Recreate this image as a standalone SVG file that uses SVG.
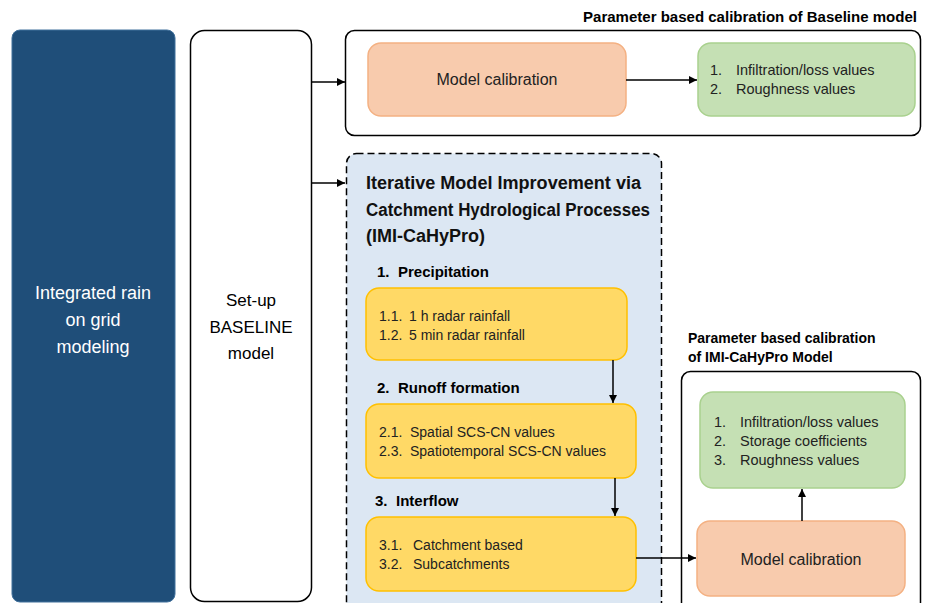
<svg xmlns="http://www.w3.org/2000/svg" width="926" height="603" viewBox="0 0 926 603">
<defs>
<marker id="ah" viewBox="0 0 10 10" refX="10" refY="5" markerWidth="8" markerHeight="8" markerUnits="userSpaceOnUse" orient="auto">
<path d="M0,0 L10,5 L0,10 z" fill="#000"/>
</marker>
<style>
text{font-family:"Liberation Sans",Arial,sans-serif;}
.orange{fill:#f8cbad;stroke:#f4b183;stroke-width:1.5;}
.green{fill:#c5e0b4;stroke:#a9d18e;stroke-width:1.5;}
.yellow{fill:#ffd966;stroke:#ffc000;stroke-width:1.5;}
.frame{fill:#fff;stroke:#000;stroke-width:1.5;}
.t{font-size:14px;fill:#222;}
.g{font-size:14.5px;fill:#222;}
.h{font-size:15px;font-weight:bold;fill:#000;}
.cap{font-size:14px;font-weight:bold;fill:#000;}
.big{font-size:18px;font-weight:bold;fill:#111;}
.conn{stroke:#000;stroke-width:1.5;fill:none;marker-end:url(#ah);}
</style>
</defs>
<rect width="926" height="603" fill="#fff"/>

<g id="rain-on-grid">
<rect x="12" y="30" width="163" height="572" rx="8" fill="#1f4e79" stroke="#41719c" stroke-width="1"/>
<text x="93" y="299" text-anchor="middle" font-size="18" fill="#fff">Integrated rain</text>
<text x="93" y="326" text-anchor="middle" font-size="18" fill="#fff">on grid</text>
<text x="93" y="353" text-anchor="middle" font-size="18" fill="#fff">modeling</text>
</g>

<g id="baseline">
<rect x="190.5" y="30.5" width="121" height="571" rx="14" class="frame"/>
<text x="251" y="306" text-anchor="middle" font-size="17" fill="#000">Set-up</text>
<text x="251" y="333" text-anchor="middle" font-size="17" fill="#000">BASELINE</text>
<text x="251" y="359" text-anchor="middle" font-size="17" fill="#000">model</text>
</g>

<g id="baseline-calibration">
<text x="917" y="22" text-anchor="end" class="cap" textLength="334" lengthAdjust="spacingAndGlyphs">Parameter based calibration of Baseline model</text>
<rect x="345.5" y="30.5" width="575" height="105" rx="9" class="frame"/>
</g>

<g id="model-calibration-1">
<rect x="368" y="43" width="258" height="73" rx="13" class="orange"/>
<text x="497" y="85" text-anchor="middle" font-size="16" fill="#222">Model calibration</text>
</g>

<g id="params-1">
<rect x="698" y="43" width="217" height="73" rx="13" class="green"/>
<text x="710" y="75" class="g">1.</text>
<text x="736" y="75" class="g">Infiltration/loss values</text>
<text x="710" y="94" class="g">2.</text>
<text x="736" y="94" class="g">Roughness values</text>
</g>

<g id="imi-cahypro">
<rect x="346.5" y="153.5" width="315" height="460" rx="10" fill="#dce7f3" stroke="#000" stroke-width="1.5" stroke-dasharray="7,4"/>
<text x="366" y="189" class="big" textLength="275" lengthAdjust="spacingAndGlyphs">Iterative Model Improvement via</text>
<text x="366" y="216" class="big" textLength="284" lengthAdjust="spacingAndGlyphs">Catchment Hydrological Processes</text>
<text x="366" y="242" class="big">(IMI-CaHyPro)</text>
<text x="377" y="277" class="h">1.</text><text x="398" y="277" class="h">Precipitation</text>
<text x="377" y="393" class="h">2.</text><text x="398" y="393" class="h">Runoff formation</text>
<text x="375" y="506" class="h">3.</text><text x="396" y="506" class="h">Interflow</text>
</g>

<g id="precipitation">
<rect x="366" y="288" width="261" height="72" rx="13" class="yellow"/>
<text x="379" y="321" class="t">1.1.</text><text x="409" y="321" class="t">1 h radar rainfall</text>
<text x="379" y="340" class="t">1.2.</text><text x="409" y="340" class="t">5 min radar rainfall</text>
</g>

<g id="runoff">
<rect x="366" y="404" width="270" height="74" rx="13" class="yellow"/>
<text x="379" y="437" class="t">2.1.</text><text x="410" y="437" class="t">Spatial SCS-CN values</text>
<text x="379" y="456" class="t">2.3.</text><text x="410" y="456" class="t">Spatiotemporal SCS-CN values</text>
</g>

<g id="interflow">
<rect x="366" y="517" width="270" height="74" rx="13" class="yellow"/>
<text x="379" y="550" class="t">3.1.</text>
<text x="413" y="550" class="t">Catchment based</text>
<text x="379" y="569" class="t">3.2.</text>
<text x="413" y="569" class="t">Subcatchments</text>
</g>

<g id="imi-calibration">
<text x="688" y="343" class="cap">Parameter based calibration</text>
<text x="688" y="362" class="cap">of IMI-CaHyPro Model</text>
<rect x="681.5" y="371.5" width="239" height="240" rx="9" class="frame"/>
</g>

<g id="params-2">
<rect x="700" y="392" width="205" height="96" rx="13" class="green"/>
<text x="714" y="427" class="g">1.</text>
<text x="740" y="427" class="g">Infiltration/loss values</text>
<text x="714" y="446" class="g">2.</text>
<text x="740" y="446" class="g">Storage coefficients</text>
<text x="714" y="465" class="g">3.</text>
<text x="740" y="465" class="g">Roughness values</text>
</g>

<g id="model-calibration-2">
<rect x="697" y="521" width="208" height="75" rx="13" class="orange"/>
<text x="801" y="565" text-anchor="middle" font-size="16" fill="#222">Model calibration</text>
</g>

<g id="connectors">
<line x1="311" y1="82" x2="345" y2="82" class="conn"/>
<line x1="311" y1="183" x2="345" y2="183" class="conn"/>
<line x1="626" y1="80" x2="697" y2="80" class="conn"/>
<line x1="613" y1="360" x2="613" y2="403" class="conn"/>
<line x1="615" y1="478" x2="615" y2="516" class="conn"/>
<line x1="636" y1="558" x2="696" y2="558" class="conn"/>
<line x1="802" y1="521" x2="802" y2="489" class="conn"/>
</g>
</svg>
